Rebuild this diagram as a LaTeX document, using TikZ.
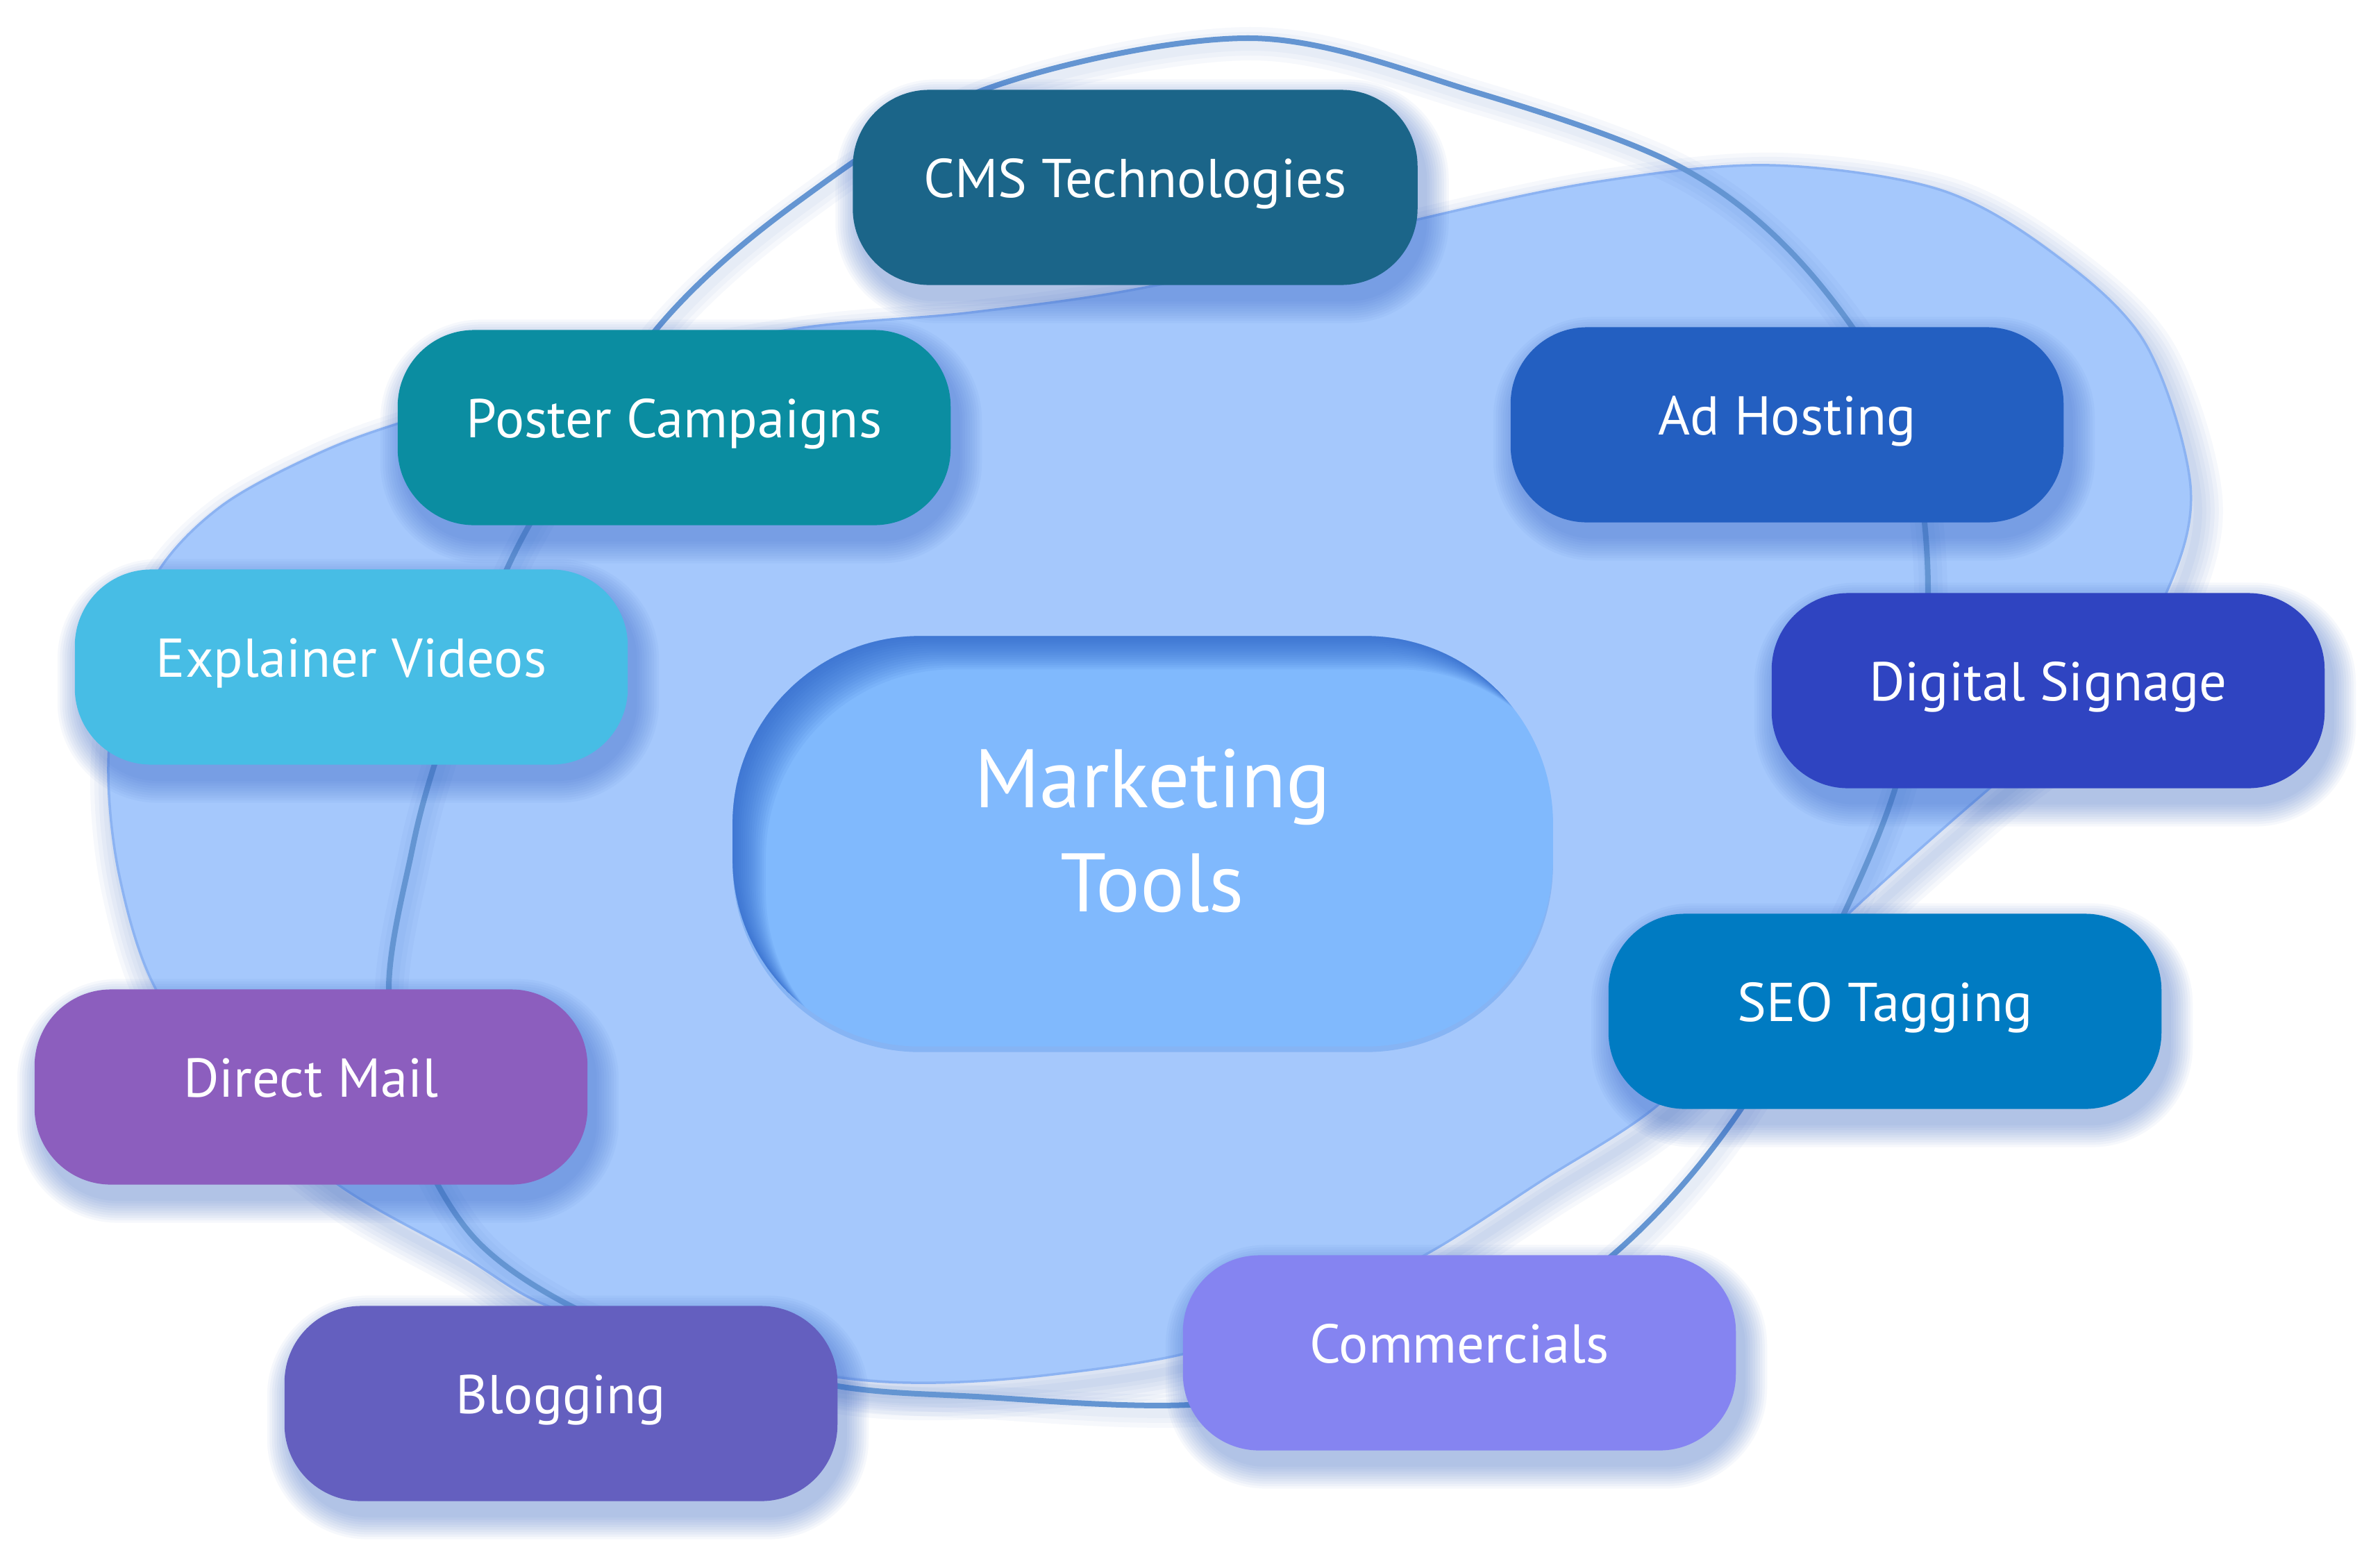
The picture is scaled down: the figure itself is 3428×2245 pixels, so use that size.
\documentclass[tikz,border=0pt]{standalone}
\usepackage{fontspec}
\setmainfont{PT Sans}
\definecolor{blobfill}{HTML}{A5C8FC}
\definecolor{blobedge}{HTML}{8CB3F2}
\definecolor{ringc}{HTML}{6495D2}
\definecolor{shadowc}{HTML}{2F5FC4}
\definecolor{innerc}{HTML}{2A62C8}
\definecolor{centralc}{HTML}{80B9FD}
\definecolor{centraledge}{HTML}{86B4F4}
\definecolor{cmsc}{HTML}{1B6589}
\definecolor{posterc}{HTML}{0B8DA1}
\definecolor{explc}{HTML}{47BDE5}
\definecolor{dmc}{HTML}{8C5EBE}
\definecolor{blogc}{HTML}{645FBF}
\definecolor{commc}{HTML}{8584F1}
\definecolor{seoc}{HTML}{007BC2}
\definecolor{dsc}{HTML}{2F44C1}
\definecolor{adc}{HTML}{235FC1}
\pgfdeclarelayer{bg}
\pgfdeclarelayer{shad}
\pgfsetlayers{bg,shad,main}
\tikzset{
  tbox/.style={rectangle, rounded corners=1.1cm, minimum width=7.96cm, minimum height=2.81cm,
    inner sep=0pt, outer sep=0pt, text=white, font=\fontsize{22.4}{27}\selectfont,
    text height=0.55cm, text depth=0.27cm},
  cbox/.style={rectangle, rounded corners=2.7cm, minimum width=11.81cm, minimum height=5.91cm,
    inner sep=0pt, outer sep=0pt, fill=centralc},
  clabel/.style={text=white, align=center, font=\fontsize{34}{42.7}\selectfont, inner sep=0pt},
  ringline/.style={draw=ringc, line width=0.08cm},
}
\newcommand\bshadow[1]{%
  \foreach \k in {1,...,10}{%
    \fill[shadowc, opacity=0.045, rounded corners={1.1cm+\k*0.035cm}]
      ([shift={(10-\k*3.5,20-\k*3.5)}]#1.north west) rectangle ([shift={(10+\k*3.5,20+\k*3.5)}]#1.south east);}}
\begin{document}
\begin{tikzpicture}[x=0.01cm,y=-0.01cm]
\useasboundingbox (0,0) rectangle (3428,2245);
\path[save path=\blobp] plot[smooth cycle, tension=0.55] coordinates {
 (2549,238) (2793,273) (2960,367) (3090,495) (3155,700) (3121,852) (3020,1010) (2864,1137)
 (2667,1312) (2525,1455) (2383,1596) (2222,1700) (2054,1807) (1880,1890) (1707,1950)
 (1508,1981) (1345,1992) (1206,1984) (1000,1945) (788,1881) (663,1807) (489,1708)
 (340,1580) (224,1424) (172,1262) (156,1104) (175,950) (230,820) (319,729) (446,659)
 (574,610) (850,530) (1150,473) (1400,450) (1670,410) (2039,317) (2300,262)};
\path[save path=\ringp] plot[smooth cycle, tension=0.55] coordinates {
 (1801,55) (2126,133) (2419,240) (2600,385) (2740,600) (2777,852) (2740,1100) (2656,1316)
 (2508,1597) (2324,1807) (2060,1985) (1712,2024) (1406,2012) (1207,1997) (1000,1945)
 (821,1881) (680,1780) (592,1620) (560,1424) (593,1227) (625,1104) (682,940) (762,757)
 (944,476) (1150,290) (1421,128)};
\begin{pgfonlayer}{bg}
  \fill[white] (0,0) rectangle (3428,2245);
  \foreach \w in {12,24,36,48,60,72}{%
    \draw[use path=\blobp, draw=shadowc, opacity=0.045, line width=\w*0.01cm,
      transform canvas={shift={(10,18)}}];}
  \fill[use path=\blobp, blobfill];
  \draw[use path=\blobp, draw=blobedge, line width=0.035cm];
  \foreach \w in {20,34,48}{%
    \draw[use path=\ringp, draw=shadowc, opacity=0.04, line width=\w*0.01cm,
      transform canvas={shift={(4,8)}}];}
  \draw[use path=\ringp, ringline];
\end{pgfonlayer}

\node[tbox, fill=cmsc, minimum width=8.13cm] (cms) at (1635,270) {CMS Technologies};
\node[tbox, fill=posterc] (poster) at (971,616) {Poster Campaigns};
\node[tbox, fill=explc] (expl) at (506,961) {Explainer Videos};
\node[tbox, fill=dmc] (dm) at (448,1566) {Direct Mail};
\node[tbox, fill=blogc] (blog) at (808,2022) {Blogging};
\node[tbox, fill=commc] (comm) at (2102,1949) {Commercials};
\node[tbox, fill=seoc] (seo) at (2715,1457) {SEO Tagging};
\node[tbox, fill=dsc] (ds) at (2950,995) {Digital Signage};
\node[tbox, fill=adc] (ad) at (2574,612) {Ad Hosting};

\node[cbox] (mt) at (1646,1212) {};
\begin{scope}
  \clip[rounded corners=2.7cm] (mt.north west) rectangle (mt.south east);
  \foreach \k in {1,...,16}{%
    \fill[innerc, opacity=0.07, even odd rule, rounded corners=2.7cm]
      ([shift={(-400,-400)}]mt.north west) rectangle ([shift={(400,400)}]mt.south east)
      ([shift={(\k*3,\k*3)}]mt.north west) rectangle ([shift={(\k*3,\k*3)}]mt.south east);}
\end{scope}
\node[clabel] (mtl) at (1660,1197) {Marketing\\Tools};

\begin{pgfonlayer}{shad}
  \bshadow{cms}\bshadow{poster}\bshadow{expl}\bshadow{dm}\bshadow{blog}
  \bshadow{comm}\bshadow{seo}\bshadow{ds}\bshadow{ad}
  \fill[centraledge, rounded corners=2.7cm] ([shift={(0,8)}]mt.north west) rectangle ([shift={(0,8)}]mt.south east);
\end{pgfonlayer}
\end{tikzpicture}
\end{document}
